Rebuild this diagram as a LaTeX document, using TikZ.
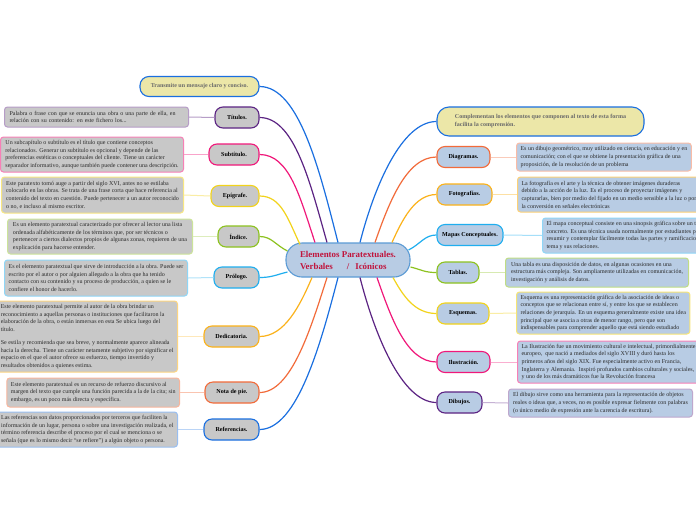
\documentclass[tikz,border=0pt]{standalone}
\usepackage{fontspec}
\setmainfont{Liberation Serif}
\usetikzlibrary{calc}
\definecolor{cblue}{HTML}{1A6FE0}
\definecolor{cpurple}{HTML}{5C2483}
\definecolor{cpink}{HTML}{F0187A}
\definecolor{cyellow}{HTML}{F2D31B}
\definecolor{cgreen}{HTML}{8DC21F}
\definecolor{ccyan}{HTML}{1FAEEF}
\definecolor{corange}{HTML}{FBB21A}
\definecolor{cred}{HTML}{F26B3A}
\definecolor{graybox}{HTML}{C8C8C8}
\definecolor{bluebox}{HTML}{B8CCE4}
\definecolor{khaki}{HTML}{ECE7A8}
\definecolor{centerborder}{HTML}{5B9BD5}
\definecolor{crimson}{HTML}{C0143C}
\definecolor{txt}{HTML}{2A2A2A}
\definecolor{graytxt}{HTML}{6A6A6A}
\newcommand{\descfont}{\fontsize{6.0}{7.7}\selectfont}
\newcommand{\lblfont}{\fontsize{6.1}{7}\selectfont\bfseries}
\tikzset{
  lbl/.style={draw, rounded corners=8pt, line width=1.1pt, font=\lblfont, minimum height=21pt, inner sep=1pt, text=black},
  lblL/.style={lbl, fill=graybox},
  lblR/.style={lbl, fill=bluebox},
  desc/.style={draw, rounded corners=3pt, line width=1pt, align=left, font=\descfont, inner xsep=4pt, inner ysep=2pt, text=txt},
  descL/.style={desc, fill=graybox, anchor=east},
  descR/.style={desc, fill=bluebox, anchor=west},
  br/.style={line width=1.2pt},
  tie/.style={line width=1pt},
}
\begin{document}
\begin{tikzpicture}[x=1pt,y=1pt]
\useasboundingbox[fill=white] (0,0) rectangle (696,-520);

% central node
\node[draw=centerborder, fill=bluebox, line width=1.1pt, rounded corners=16pt, minimum width=124pt, minimum height=34pt, align=left, text=crimson, font=\fontsize{8.9}{12}\selectfont\bfseries] (c) at (348,-260)
  {Elementos Paratextuales.\\Verbales\hspace{14pt}/\hspace{6pt}Icónicos};

% left labels
\node[draw=cblue, fill=khaki, line width=1.1pt, rounded corners=9pt, minimum width=119pt, minimum height=20pt, text=graytxt, font=\fontsize{6}{7}\selectfont\bfseries] (transmite) at (199.5,-86.5) {Transmite un mensaje claro y conciso.};
\node[lblL, draw=cpurple, minimum width=44pt] (titulos) at (237,-117.5) {Títulos.};
\node[lblL, draw=cpink, minimum width=50pt] (subtitulo) at (234,-154.5) {Subtítulo.};
\node[lblL, draw=cyellow, minimum width=48pt] (epigrafe) at (235,-196) {Epígrafe.};
\node[lblL, draw=cgreen, minimum width=41pt] (indice) at (238.5,-236.5) {Índice.};
\node[lblL, draw=ccyan, minimum width=45pt] (prologo) at (236.5,-277.5) {Prólogo.};
\node[lblL, draw=corange, minimum width=55pt] (dedicatoria) at (231.5,-336.5) {Dedicatoria.};
\node[lblL, draw=cred, minimum width=54pt] (nota) at (232,-392.5) {Nota de pie.};
\node[lblL, draw=cblue, minimum width=55pt] (referencias) at (231.5,-429.5) {Referencias.};

% right labels
\node[draw=cblue, fill=khaki, line width=1.1pt, rounded corners=12pt, minimum width=207pt, minimum height=29pt, align=left, text=graytxt, font=\fontsize{6.05}{8}\selectfont\bfseries] (complementan) at (540.5,-121.5) {Complementan los elementos que componen al texto de esta forma\\facilita la comprensión.};
\node[lblR, draw=cred, minimum width=53pt] (diagramas) at (463.5,-157) {Diagramas.};
\node[lblR, draw=corange, minimum width=55pt] (fotografias) at (464.5,-194.5) {Fotografías.};
\node[lblR, draw=ccyan, minimum width=66pt] (mapas) at (470,-235) {Mapas Conceptuales.};
\node[lblR, draw=cgreen, minimum width=42pt] (tablas) at (458,-272.5) {Tablas.};
\node[lblR, draw=cyellow, minimum width=52pt] (esquemas) at (463,-313.5) {Esquemas.};
\node[lblR, draw=cpink, minimum width=53pt] (ilustracion) at (463.5,-362) {Ilustración.};
\node[lblR, draw=cpurple, minimum width=45pt] (dibujos) at (459.5,-402.5) {Dibujos.};

% left descriptions
\node[descL, draw=cpurple!45, minimum height=20pt, text width=174pt, inner xsep=5pt] (tdesc) at (189,-117)
  {Palabra o frase con que se enuncia una obra o una parte de ella, en\\relación con su contenido: en este fichero los...};
\node[descL, draw=cpink!55, minimum height=35pt, minimum width=183pt] (sdesc) at (184,-154.5)
  {Un subcapítulo o subtítulo es el título que contiene conceptos\\relacionados. Generar un subtítulo es opcional y depende de las\\preferencias estéticas o conceptuales del cliente. Tiene un carácter\\separador informativo, aunque también puede contener una descripción.};
\node[descL, draw=cyellow!55, minimum height=36pt, minimum width=182pt] (edesc) at (184,-195)
  {Este paratexto tomó auge a partir del siglo XVI, antes no se estilaba\\colocarlo en las obras. Se trata de una frase corta que hace referencia al\\contenido del texto en cuestión. Puede pertenecer a un autor reconocido\\o no, e incluso al mismo escritor.};
\node[descL, draw=cgreen!45, minimum height=35pt, minimum width=185pt] (idesc) at (193,-236.5)
  {Es un elemento paratextual caracterizado por ofrecer al lector una lista\\ordenada alfabéticamente de los términos que, por ser técnicos o\\pertenecer a ciertos dialectos propios de algunas zonas, requieren de una\\explicación para hacerse entender.};
\node[descL, draw=ccyan!50, minimum height=36pt, minimum width=183pt] (pdesc) at (188,-278)
  {Es el elemento paratextual que sirve de introducción a la obra. Puede ser\\escrito por el autor o por alguien allegado a la obra que ha tenido\\contacto con su contenido y su proceso de producción, a quien se le\\confiere el honor de hacerlo.};
\node[descL, draw=corange!55, minimum height=71pt] (ddesc) at (178,-336.5)
  {Este elemento paratextual permite al autor de la obra brindar un\\reconocimiento a aquellas personas o instituciones que facilitaron la\\elaboración de la obra, o están inmersas en esta Se ubica luego del\\título.\\[5pt]Se estila y recomienda que sea breve, y normalmente aparece alineada\\hacia la derecha. Tiene un carácter netamente subjetivo por significar el\\espacio en el que el autor ofrece su esfuerzo, tiempo invertido y\\resultados obtenidos a quienes estima.};
\node[descL, draw=cred!50, minimum height=29pt] (ndesc) at (180,-392.5)
  {Este elemento paratextual es un recurso de refuerzo discursivo al\\margen del texto que cumple una función parecida a la de la cita; sin\\embargo, es un poco más directa y específica.};
\node[descL, draw=cblue!45, minimum height=35pt] (rdesc) at (178,-429.5)
  {Las referencias son datos proporcionados por terceros que faciliten la\\información de un lugar, persona o sobre una investigación realizada, el\\término referencia describe el proceso por el cual se menciona o se\\señala (que es lo mismo decir “se refiere”) a algún objeto o persona.};

% right descriptions
\node[descR, draw=cred!45, minimum height=28pt] (diadesc) at (516,-157)
  {Es un dibujo geométrico, muy utilizado en ciencia, en educación y en\\comunicación; con el que se obtiene la presentación gráfica de una\\proposición, de la resolución de un problema};
\node[descR, draw=corange!60, minimum height=35pt] (fotdesc) at (517,-194.5)
  {La fotografía es el arte y la técnica de obtener imágenes duraderas\\debido a la acción de la luz. Es el proceso de proyectar imágenes y\\capturarlas, bien por medio del fijado en un medio sensible a la luz o por\\la conversión en señales electrónicas};
\node[descR, draw=ccyan!50, minimum height=35pt] (mapdesc) at (542,-235.5)
  {El mapa conceptual consiste en una sinopsis gráfica sobre un tema\\concreto. Es una técnica usada normalmente por estudiantes para\\resumir y contemplar fácilmente todas las partes y ramificaciones del\\tema y sus relaciones.};
\node[descR, draw=cgreen!55, minimum height=29pt, minimum width=183pt] (tabdesc) at (505,-272.5)
  {Una tabla es una disposición de datos, en algunas ocasiones en una\\estructura más compleja. Son ampliamente utilizadas en comunicación,\\investigación y análisis de datos.};
\node[descR, draw=cyellow!60, minimum height=42pt] (esqdesc) at (516,-313)
  {Esquema es una representación gráfica de la asociación de ideas o\\conceptos que se relacionan entre sí, y entre los que se establecen\\relaciones de jerarquía. En un esquema generalmente existe una idea\\principal que se asocia a otras de menor rango, pero que son\\indispensables para comprender aquello que está siendo estudiado};
\node[descR, draw=cpink!55, minimum height=42pt] (iludesc) at (517,-362)
  {La Ilustración fue un movimiento cultural e intelectual, primordialmente\\europeo,\ \ que nació a mediados del siglo XVIII y duró hasta los\\primeros años del siglo XIX. Fue especialmente activo en Francia,\\Inglaterra y Alemania.\ \ Inspiró profundos cambios culturales y sociales,\\y uno de los más dramáticos fue la Revolución francesa};
\node[descR, draw=cpurple!40, minimum height=28pt, minimum width=184pt] (dibdesc) at (508,-403)
  {El dibujo sirve como una herramienta para la representación de objetos\\reales o ideas que, a veces, no es posible expresar fielmente con palabras\\(o único medio de expresión ante la carencia de escritura).};

% ties
\draw[tie, cpurple!45] (tdesc.east) -- (titulos.west);
\draw[tie, cpink!40] (sdesc.east) -- (subtitulo.west);
\draw[tie, cyellow!40] (edesc.east) -- (epigrafe.west);
\draw[tie, cgreen!30] (idesc.east) -- (indice.west);
\draw[tie, ccyan!35] (pdesc.east) -- (prologo.west);
\draw[tie, corange!30] (ddesc.east) -- (dedicatoria.west);
\draw[tie, cred!40] (ndesc.east) -- (nota.west);
\draw[tie, cblue!30] (rdesc.east) -- (referencias.west);
\draw[tie, cred!35] (diagramas.east) -- (diadesc.west);
\draw[tie, corange!40] (fotografias.east) -- (fotdesc.west);
\draw[tie, ccyan!40] (mapas.east) -- (mapdesc.west);
\draw[tie, cgreen!35] (tablas.east) -- (tabdesc.west);
\draw[tie, cyellow!40] (esquemas.east) -- (esqdesc.west);
\draw[tie, cpink!35] (ilustracion.east) -- (iludesc.west);
\draw[tie, cpurple!35] (dibujos.east) -- (dibdesc.west);

% branches left
\draw[br, cblue] ($(c.north)+(-10,0)$) .. controls +(-18,70) and +(40,0) .. (transmite.east);
\draw[br, cpurple] ($(c.north)+(-21,0)$) .. controls +(-17,60) and +(35,0) .. (titulos.east);
\draw[br, cpink] ($(c.north)+(-33,0)$) .. controls +(-15,45) and +(30,0) .. (subtitulo.east);
\draw[br, cyellow] ($(c.north)+(-48,-2)$) .. controls +(-12,25) and +(22,0) .. (epigrafe.east);
\draw[br, cgreen] ($(c.west)+(2,9)$) .. controls +(-12,6) and +(12,0) .. (indice.east);
\draw[br, ccyan] ($(c.west)+(2,-12)$) .. controls +(-12,-3) and +(12,0) .. (prologo.east);
\draw[br, corange] ($(c.south)+(-36,0)$) .. controls +(-12,-28) and +(25,0) .. (dedicatoria.east);
\draw[br, cred] ($(c.south)+(-21,0)$) .. controls +(-16,-50) and +(32,0) .. (nota.east);
\draw[br, cblue] ($(c.south)+(-10,0)$) .. controls +(-17,-65) and +(38,0) .. (referencias.east);
% branches right
\draw[br, cblue] ($(c.north)+(12,0)$) .. controls +(14,55) and +(-35,0) .. (complementan.west);
\draw[br, cred] ($(c.north)+(27,0)$) .. controls +(14,40) and +(-30,0) .. (diagramas.west);
\draw[br, corange] ($(c.north)+(44,0)$) .. controls +(10,22) and +(-22,0) .. (fotografias.west);
\draw[br, ccyan] ($(c.east)+(-2,10)$) .. controls +(12,6) and +(-12,0) .. (mapas.west);
\draw[br, cgreen] ($(c.east)+(0,-7)$) .. controls +(12,-3) and +(-12,0) .. (tablas.west);
\draw[br, cyellow] ($(c.south)+(45,0)$) .. controls +(10,-18) and +(-22,0) .. (esquemas.west);
\draw[br, cpink] ($(c.south)+(29,0)$) .. controls +(14,-40) and +(-30,0) .. (ilustracion.west);
\draw[br, cpurple] ($(c.south)+(12,0)$) .. controls +(14,-55) and +(-35,0) .. (dibujos.west);
\end{tikzpicture}
\end{document}
